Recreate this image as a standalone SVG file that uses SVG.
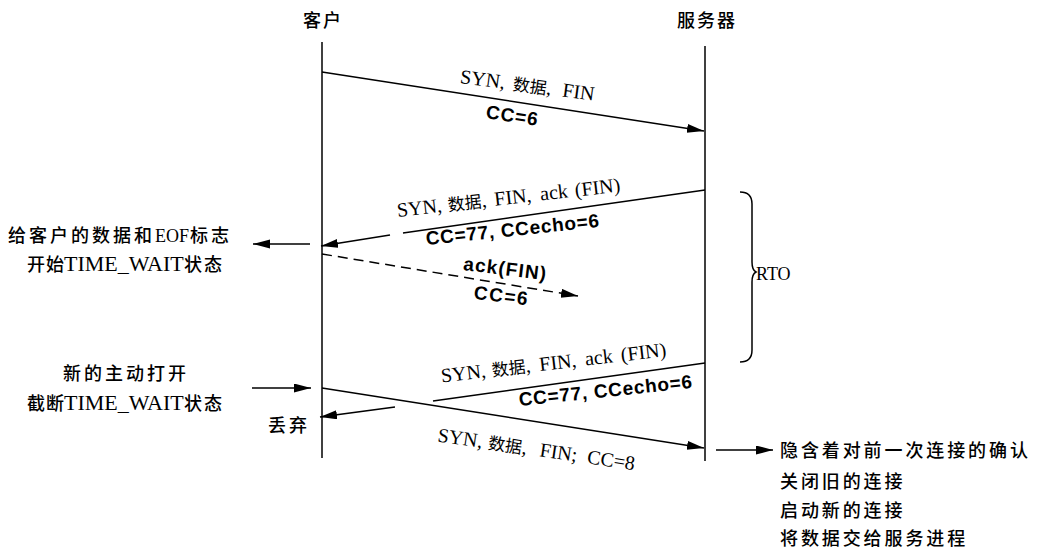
<svg xmlns="http://www.w3.org/2000/svg" width="1039" height="556" viewBox="0 0 1039 556">
<style>
.ln{stroke:#000;stroke-width:1.5;fill:none}
.cj{font-family:"Noto Sans CJK SC","Noto Sans",sans-serif;font-size:18px;font-weight:500;fill:#000}
.sf{font-family:"Liberation Serif","Times New Roman",serif;font-size:20px;fill:#000}
.sf .c{font-family:"Noto Sans CJK SC",sans-serif;font-size:17px}
.s{font-family:"Liberation Serif","Times New Roman",serif;fill:#000}
.bd{font-family:"Liberation Sans","Noto Sans",sans-serif;font-size:19px;font-weight:bold;fill:#000}
</style>
<defs>
<marker id="ah" markerUnits="userSpaceOnUse" markerWidth="18" markerHeight="10" refX="17" refY="4.5" orient="auto">
<path d="M0,0 L17,4.5 L0,9 z" fill="#000"/>
</marker>
</defs>
<rect width="1039" height="556" fill="#fff"/>
<g id="client">
<text class="cj" x="323" y="27" text-anchor="middle" letter-spacing="2">客户</text>
<line class="ln" x1="322" y1="42" x2="322" y2="458"/>
</g>
<g id="server">
<text class="cj" x="707" y="27" text-anchor="middle" letter-spacing="2">服务器</text>
<line class="ln" x1="705" y1="46" x2="705" y2="461"/>
</g>
<g id="connectors">
<line class="ln" x1="322" y1="72" x2="704" y2="131" marker-end="url(#ah)"/>
<line class="ln" x1="705" y1="190" x2="403" y2="233"/>
<line class="ln" x1="390" y1="235" x2="321" y2="246" marker-end="url(#ah)"/>
<line class="ln" x1="322" y1="254" x2="578" y2="296" stroke-dasharray="10,6" marker-end="url(#ah)"/>
<line class="ln" x1="705" y1="363" x2="433" y2="401"/>
<line class="ln" x1="395" y1="407" x2="320" y2="417" marker-end="url(#ah)"/>
<line class="ln" x1="322" y1="388" x2="704" y2="448" marker-end="url(#ah)"/>
<line class="ln" x1="310" y1="244" x2="253" y2="244" marker-end="url(#ah)"/>
<line class="ln" x1="252" y1="388" x2="311" y2="388" marker-end="url(#ah)"/>
<line class="ln" x1="716" y1="450" x2="773" y2="450" marker-end="url(#ah)"/>
</g>
<g id="labels">
<text class="sf" transform="translate(528,92) rotate(7.5)"><tspan x="-69">SYN,</tspan><tspan class="c" x="-16">数据</tspan><tspan x="18">,</tspan><tspan x="34">FIN</tspan></text>
<text class="bd" transform="translate(511,122) rotate(8.8)" text-anchor="middle" textLength="52" lengthAdjust="spacing">CC=6</text>
<text class="sf" transform="translate(511,204) rotate(-6.5)"><tspan x="-114">SYN,</tspan><tspan class="c" x="-63">数据</tspan><tspan x="-29">,</tspan><tspan x="-16">FIN,</tspan><tspan x="30">ack</tspan><tspan x="65">(FIN)</tspan></text>
<text class="bd" transform="translate(513,236) rotate(-6)" text-anchor="middle" textLength="174" lengthAdjust="spacing">CC=77, CCecho=6</text>
<text class="bd" transform="translate(504,275) rotate(7)" text-anchor="middle" textLength="83" lengthAdjust="spacing">ack(FIN)</text>
<text class="bd" transform="translate(500,302) rotate(7)" text-anchor="middle" textLength="54" lengthAdjust="spacing">CC=6</text>
<text class="sf" transform="translate(557,369) rotate(-6.7)"><tspan x="-116">SYN,</tspan><tspan class="c" x="-65">数据</tspan><tspan x="-31">,</tspan><tspan x="-17">FIN,</tspan><tspan x="29">ack</tspan><tspan x="65">(FIN)</tspan></text>
<text class="bd" transform="translate(606,397) rotate(-6)" text-anchor="middle" textLength="174" lengthAdjust="spacing">CC=77, CCecho=6</text>
<text class="sf" transform="translate(537,456) rotate(8.3)"><tspan x="-101">SYN,</tspan><tspan class="c" x="-50">数据</tspan><tspan x="-16">,</tspan><tspan x="2">FIN;</tspan><tspan x="50">CC=8</tspan></text>
</g>
<g id="left-notes">
<text class="cj" x="8" y="242" letter-spacing="3">给客户的数据和</text>
<text class="s" x="155" y="242" style="font-size:18px">EOF</text>
<text class="cj" x="190" y="242" letter-spacing="3">标志</text>
<text class="cj" x="27" y="271" letter-spacing="1">开始</text>
<text class="s" x="64" y="271" style="font-size:22px">TIME_WAIT</text>
<text class="cj" x="184" y="271" letter-spacing="2">状态</text>
<text class="cj" x="63" y="380" letter-spacing="3">新的主动打开</text>
<text class="cj" x="27" y="410" letter-spacing="1">截断</text>
<text class="s" x="64" y="410" style="font-size:22px">TIME_WAIT</text>
<text class="cj" x="184" y="410" letter-spacing="2">状态</text>
<text class="cj" x="268" y="432" letter-spacing="3">丢弃</text>
</g>
<g id="rto">
<path class="ln" d="M740,192 Q752,192 752,204 L752,262 Q752,270 756,272 Q752,274 752,282 L752,350 Q752,362 740,362"/>
<text class="s" x="756" y="280" style="font-size:18px">RTO</text>
</g>
<g id="right-notes">
<text class="cj" x="780" y="457" letter-spacing="2.9">隐含着对前一次连接的确认</text>
<text class="cj" x="780" y="488" letter-spacing="2.9">关闭旧的连接</text>
<text class="cj" x="780" y="517" letter-spacing="2.9">启动新的连接</text>
<text class="cj" x="780" y="545" letter-spacing="2.9">将数据交给服务进程</text>
</g>
</svg>
